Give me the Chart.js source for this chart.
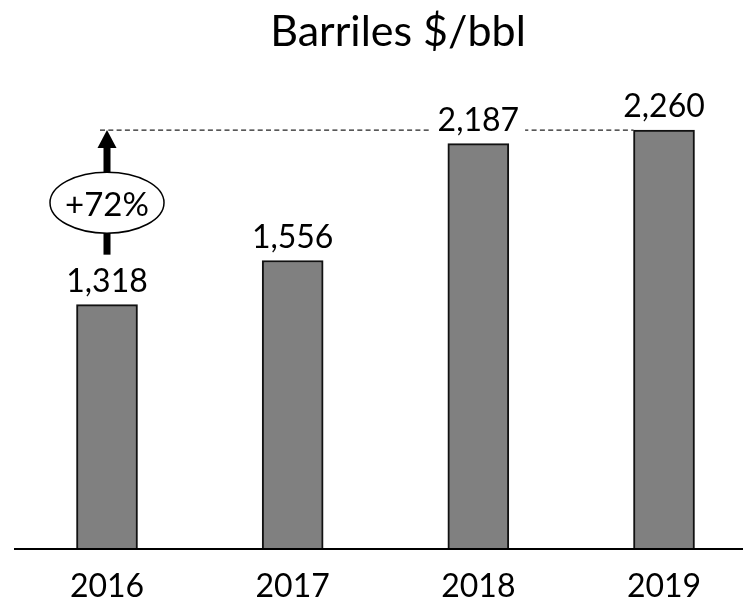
<!DOCTYPE html>
<html>
<head>
<meta charset="utf-8">
<script src="https://cdn.jsdelivr.net/npm/chart.js"></script>
<style>
html,body{margin:0;padding:0;background:#fff;}
canvas{display:block;}
</style>
</head>
<body>
<canvas id="c" width="743" height="602"></canvas>
<script>
const categories = ['2016', '2017', '2018', '2019'];
const values = [1318, 1556, 2187, 2260];
const valueLabels = ['1,318', '1,556', '2,187', '2,260'];
const growthLabel = '+72%';
const titleText = 'Barriles $/bbl';

const FONT = 'Lato';

const annot = {
  id: 'annot',
  afterLayout(chart) {
    const t = chart.titleBlock;
    if (t) { t.left += 12.5; t.right += 12.5; }
  },
  beforeDatasetsDraw(chart) {
    const ctx = chart.ctx;
    const xs = chart.scales.x, ys = chart.scales.y;
    const bars = chart.getDatasetMeta(0).data;
    const yTop = ys.getPixelForValue(values[values.length - 1]);
    const last = bars[bars.length - 1];
    ctx.save();
    ctx.strokeStyle = '#222';
    ctx.lineWidth = 1.3;
    ctx.setLineDash([5, 3.3]);
    ctx.beginPath();
    ctx.moveTo(xs.getPixelForValue(0) - 7, yTop);
    ctx.lineTo(last.x - last.width / 2, yTop);
    ctx.stroke();
    ctx.restore();
  },
  afterDatasetsDraw(chart) {
    const ctx = chart.ctx;
    const ys = chart.scales.y;
    const bars = chart.getDatasetMeta(0).data;
    ctx.save();
    // baseline
    const y0 = ys.getPixelForValue(0);
    ctx.strokeStyle = '#000';
    ctx.lineWidth = 2;
    ctx.beginPath();
    ctx.moveTo(14, y0);
    ctx.lineTo(chart.width, y0);
    ctx.stroke();
    // value labels
    ctx.font = '32px ' + FONT;
    ctx.textAlign = 'center';
    ctx.textBaseline = 'alphabetic';
    bars.forEach((b, i) => {
      const t = valueLabels[i];
      const w = ctx.measureText(t).width;
      const ty = b.y - 13;
      ctx.fillStyle = '#fff';
      ctx.fillRect(b.x - w / 2 - 6, ty - 26, w + 12, 34);
      ctx.fillStyle = '#000';
      ctx.fillText(t, b.x, ty);
    });
    // arrow
    const b0 = bars[0];
    const ax = b0.x;
    const tipY = ys.getPixelForValue(values[values.length - 1]);
    const stemBottom = b0.y - 50;
    ctx.fillStyle = '#000';
    ctx.fillRect(ax - 3.5, tipY + 16, 7, stemBottom - tipY - 16);
    ctx.beginPath();
    ctx.moveTo(ax, tipY);
    ctx.lineTo(ax - 9.5, tipY + 18);
    ctx.lineTo(ax + 9.5, tipY + 18);
    ctx.closePath();
    ctx.fill();
    // ellipse
    const ey = stemBottom - 52;
    ctx.beginPath();
    ctx.ellipse(ax, ey, 57, 30.5, 0, 0, Math.PI * 2);
    ctx.fillStyle = '#fff';
    ctx.fill();
    ctx.lineWidth = 1.5;
    ctx.strokeStyle = '#000';
    ctx.stroke();
    ctx.fillStyle = '#000';
    ctx.font = '33px ' + FONT;
    ctx.textBaseline = 'middle';
    ctx.fillText(growthLabel, ax, ey + 3);
    ctx.restore();
  }
};

function draw() {
  new Chart(document.getElementById('c'), {
    type: 'bar',
    data: {
      labels: categories,
      datasets: [{
        data: values,
        backgroundColor: '#808080',
        borderColor: '#111',
        borderWidth: 2,
        barThickness: 61,
        clip: false
      }]
    },
    options: {
      responsive: false,
      animation: false,
      layout: { padding: { left: 107, right: 79, top: 0, bottom: 0 } },
      plugins: {
        legend: { display: false },
        tooltip: { enabled: false },
        title: {
          display: true,
          text: titleText,
          color: '#000',
          font: { family: FONT, size: 43, weight: 'normal' },
          padding: { top: 6, bottom: 9.4 }
        }
      },
      scales: {
        x: {
          offset: false,
          grid: { display: false, drawTicks: false },
          border: { display: false },
          ticks: {
            color: '#000',
            font: { family: FONT, size: 32 },
            padding: 18,
            maxRotation: 0,
            autoSkip: false
          },
          afterFit(s) { s.height = 53; }
        },
        y: { display: false, min: 0, max: 2600 }
      }
    },
    plugins: [annot]
  });
}
if (document.fonts && document.fonts.load) {
  document.fonts.load('32px ' + FONT).then(draw, draw);
} else { draw(); }
</script>
</body>
</html>
